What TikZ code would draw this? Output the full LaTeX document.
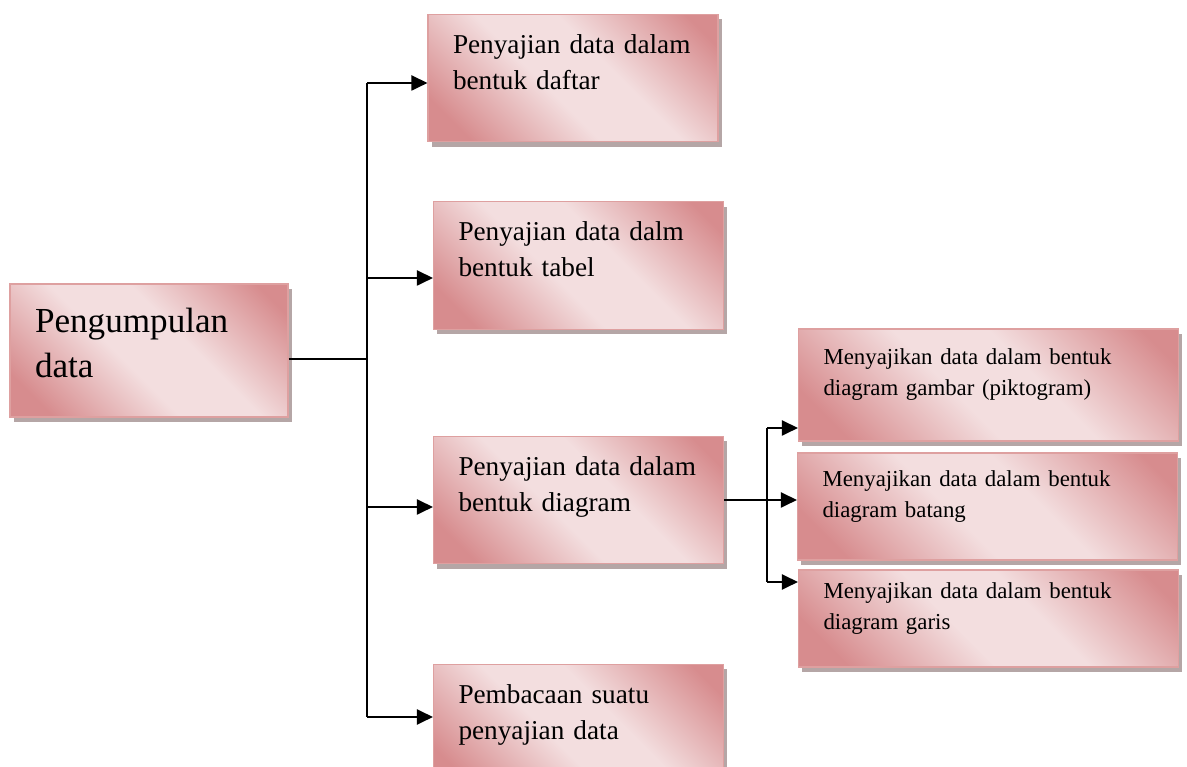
\documentclass[tikz,border=0pt]{standalone}
\usepackage{fontspec}
\setmainfont{Liberation Serif}
\usetikzlibrary{arrows.meta,shadows}

\definecolor{pinkdark}{RGB}{215,140,142}
\definecolor{pinklight}{RGB}{243,222,223}
\definecolor{pinkline}{RGB}{222,160,160}
\definecolor{shadowgray}{RGB}{150,128,128}

\pgfdeclareverticalshading{pinkfade}{100bp}{color(0bp)=(pinkdark); color(22bp)=(pinkdark);
	color(44bp)=(pinklight); color(58bp)=(pinklight); color(80bp)=(pinkdark); color(100bp)=(pinkdark)}

\begin{document}
\begin{tikzpicture}[
		pinkbox/.style={draw=pinkline, line width=0.6pt, rectangle, align=left, inner xsep=0.5cm, inner ysep=0pt,
			shade, shading=pinkfade, shading angle=-45,
			drop shadow={shadow xshift=0.07cm, shadow yshift=-0.1cm, fill=shadowgray, opacity=0.7}},
		startbox/.style={pinkbox, text width=4.56cm, font=\fontsize{20}{25.5}\selectfont, text depth=34pt},
		mainbox/.style={pinkbox, text width=4.8cm, minimum height=2.55cm, font=\fontsize{15.5}{20.5}\selectfont, text depth=39pt},
		subbox/.style={pinkbox, text width=6.6cm, font=\fontsize{13}{17.5}\selectfont, text depth=32pt},
		conn/.style={line width=1.1pt, black},
		arrow/.style={conn, -{Triangle[length=0.32cm, width=0.3cm]}}
	]
		\useasboundingbox (0,0) rectangle (23.74,15.34);

		\node[startbox, minimum height=2.66cm] (pd) at (2.98,8.33) {Pengumpulan\\data};

		\node[mainbox] (b1) at (11.46,13.78) {Penyajian data dalam\\bentuk daftar};
		\node[mainbox] (b2) at (11.57,10.03) {Penyajian data dalm\\bentuk tabel};
		\node[mainbox] (b3) at (11.57,5.34) {Penyajian data dalam\\bentuk diagram};
		\node[mainbox] (b4) at (11.57,0.78) {Pembacaan suatu\\penyajian data};

		\node[subbox, minimum height=2.24cm] (s1) at (19.77,7.64) {Menyajikan data dalam bentuk\\diagram gambar (piktogram)};
		\node[subbox, minimum height=2.14cm] (s2) at (19.75,5.21) {Menyajikan data dalam bentuk\\diagram batang};
		\node[subbox, minimum height=1.94cm] (s3) at (19.77,2.97) {Menyajikan data dalam bentuk\\diagram garis};

		\coordinate (tm) at (7.34,8.16);
		\coordinate (t1) at (7.34,13.68);
		\coordinate (t2) at (7.34,9.78);
		\coordinate (t3) at (7.34,5.20);
		\coordinate (t4) at (7.34,1.00);
		\coordinate (u1) at (15.34,6.78);
		\coordinate (u3) at (15.34,3.70);

		\draw[conn] (tm -| pd.east) -- (tm);
		\draw[conn] (t1) -- (t4);
		\foreach \t/\b in {t1/b1,t2/b2,t3/b3,t4/b4}
			\draw[arrow] (\t) -- (\t -| \b.west);

		\draw[conn] (u1) -- (u3);
		\draw[arrow] (b3.east) -- (b3.east -| s2.west);
		\draw[arrow] (u1) -- (u1 -| s1.west);
		\draw[arrow] (u3) -- (u3 -| s3.west);

	\end{tikzpicture}
\end{document}
